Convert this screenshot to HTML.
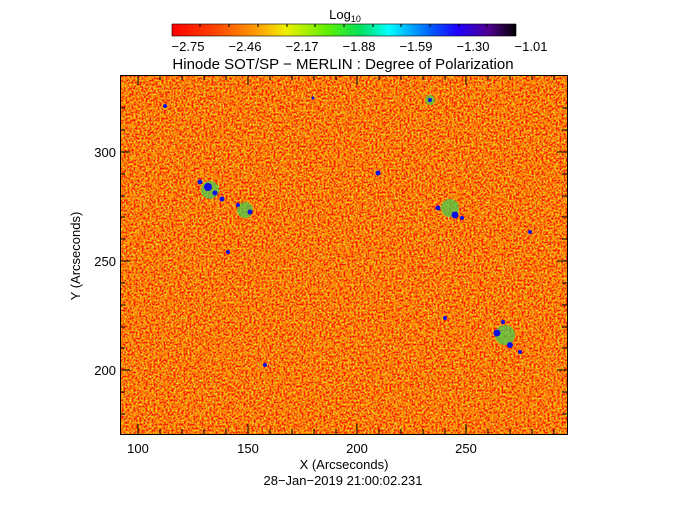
<!DOCTYPE html>
<html><head><style>
body{margin:0;background:#fff;width:687px;height:512px;overflow:hidden}
svg{display:block}
text{font-family:"Liberation Sans",sans-serif;fill:#000}
</style></head><body>
<svg width="687" height="512" viewBox="0 0 687 512">
<defs>
<linearGradient id="cb" x1="0" x2="1">
<stop offset="0" stop-color="#ff0000"/>
<stop offset="0.12" stop-color="#ff4000"/>
<stop offset="0.25" stop-color="#ffa000"/>
<stop offset="0.33" stop-color="#f0f000"/>
<stop offset="0.45" stop-color="#60f000"/>
<stop offset="0.55" stop-color="#00e060"/>
<stop offset="0.63" stop-color="#00ffff"/>
<stop offset="0.75" stop-color="#0060ff"/>
<stop offset="0.83" stop-color="#2000ff"/>
<stop offset="0.92" stop-color="#500090"/>
<stop offset="1" stop-color="#000000"/>
</linearGradient>
<filter id="nz" x="0" y="0" width="100%" height="100%">
<feTurbulence type="fractalNoise" baseFrequency="0.5" numOctaves="2" seed="4"/>
<feColorMatrix type="matrix" values="0 0 0 0 1  2.4 0 0 0 -0.95  0 0 0 0 0  0 0 0 0 1"/>
</filter>
<filter id="sp" x="0" y="0" width="100%" height="100%">
<feTurbulence type="fractalNoise" baseFrequency="0.6" numOctaves="1" seed="9"/>
<feColorMatrix type="matrix" values="0 0 0 0 0.5  0 0 0 0 0.95  0 0 0 0 0.2  8 0 0 0 -4.9"/>
</filter>
</defs>
<rect x="120" y="75" width="447" height="359" fill="#f55a10"/>
<rect x="120" y="75" width="447" height="359" filter="url(#nz)" opacity="0.75"/>
<rect x="120" y="75" width="447" height="359" filter="url(#sp)" opacity="0.8"/>
<g fill="#40d050" opacity="0.7">
<circle cx="210" cy="190" r="9"/><circle cx="245" cy="210" r="8"/><circle cx="450" cy="208" r="9"/>
<circle cx="505" cy="335" r="10"/><circle cx="430" cy="100" r="5"/>
</g>
<g fill="#1010e0">
<circle cx="208" cy="187" r="4"/><circle cx="200" cy="182" r="2.5"/><circle cx="215" cy="193" r="2.5"/><circle cx="222" cy="199" r="2.5"/>
<circle cx="250" cy="212" r="2.5"/><circle cx="238" cy="205" r="2"/><circle cx="455" cy="215" r="3.5"/><circle cx="462" cy="218" r="2"/>
<circle cx="438" cy="208" r="2.5"/><circle cx="497" cy="333" r="3.5"/><circle cx="510" cy="345" r="3"/><circle cx="520" cy="352" r="2"/>
<circle cx="503" cy="322" r="2"/><circle cx="378" cy="173" r="2.5"/><circle cx="165" cy="106" r="2"/>
<circle cx="530" cy="232" r="2"/><circle cx="228" cy="252" r="2"/><circle cx="445" cy="318" r="2"/>
<circle cx="265" cy="365" r="2"/><circle cx="430" cy="100" r="2"/><circle cx="313" cy="98" r="1.5"/>
</g>
<rect x="120.5" y="75.5" width="447" height="359" fill="none" stroke="#000"/>
<g stroke="#000">
<path d="M138 434v-10M248 434v-10M357 434v-10M466 434v-10M138 75v10M248 75v10M357 75v10M466 75v10"/>
<path d="M160 434v-5M182 434v-5M204 434v-5M226 434v-5M270 434v-5M292 434v-5M314 434v-5M336 434v-5M379 434v-5M401 434v-5M423 434v-5M445 434v-5M488 434v-5M510 434v-5M532 434v-5M554 434v-5"/>
<path d="M160 75v5M182 75v5M204 75v5M226 75v5M270 75v5M292 75v5M314 75v5M336 75v5M379 75v5M401 75v5M423 75v5M445 75v5M488 75v5M510 75v5M532 75v5M554 75v5"/>
<path d="M120 152h10M120 261h10M120 370h10M567 152h-10M567 261h-10M567 370h-10"/>
<path d="M120 108h5M120 130h5M120 174h5M120 196h5M120 217h5M120 239h5M120 283h5M120 305h5M120 327h5M120 348h5M120 392h5M120 414h5"/>
<path d="M567 108h-5M567 130h-5M567 174h-5M567 196h-5M567 217h-5M567 239h-5M567 283h-5M567 305h-5M567 327h-5M567 348h-5M567 392h-5M567 414h-5"/>
</g>
<rect x="172" y="24" width="344" height="12" fill="url(#cb)" stroke="#000" stroke-width="0.6"/>
<g stroke="#000"><path d="M200 24v3M229 24v3M258 24v3M287 24v3M315 24v3M344 24v3M373 24v3M401 24v3M430 24v3M459 24v3M487 24v3"/></g>
<g font-size="13" text-anchor="middle">
<text x="345" y="19">Log<tspan font-size="9" dy="3">10</tspan></text>
<text x="188" y="51">−2.75</text><text x="245" y="51">−2.46</text><text x="302" y="51">−2.17</text>
<text x="359" y="51">−1.88</text><text x="416" y="51">−1.59</text><text x="473" y="51">−1.30</text><text x="531" y="51">−1.01</text>
<text x="343" y="69" font-size="15">Hinode SOT/SP − MERLIN : Degree of Polarization</text>
<text x="138" y="453">100</text><text x="248" y="453">150</text><text x="357" y="453">200</text><text x="466" y="453">250</text>
<text x="344" y="469">X (Arcseconds)</text>
<text x="343" y="485">28−Jan−2019  21:00:02.231</text>
<text x="80" y="256" transform="rotate(-90 80 256)">Y (Arcseconds)</text>
</g>
<g font-size="13" text-anchor="end">
<text x="116" y="157">300</text><text x="116" y="266">250</text><text x="116" y="375">200</text>
</g>
</svg>
</body></html>
